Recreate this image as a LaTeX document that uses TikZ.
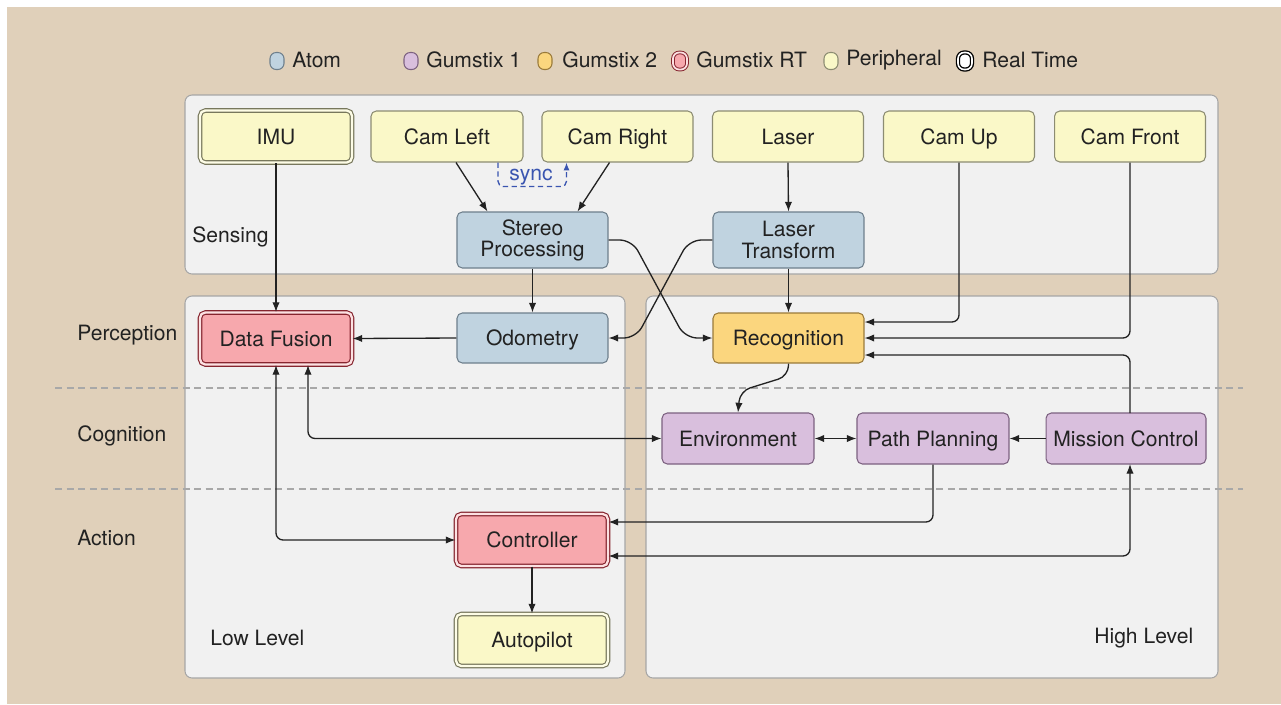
\documentclass[tikz,border=0pt]{standalone}
\usepackage{fontspec}
\setmainfont{TeX Gyre Heros}
\usetikzlibrary{arrows.meta,calc}
\definecolor{bg}{HTML}{E0D0BA}
\definecolor{panelF}{HTML}{F1F1F1}
\definecolor{panelD}{HTML}{A6A6A6}
\definecolor{periF}{HTML}{FAF8C8}
\definecolor{periD}{HTML}{8C8C72}
\definecolor{periDD}{HTML}{77775C}
\definecolor{atomF}{HTML}{C0D3E0}
\definecolor{atomD}{HTML}{6E7F8C}
\definecolor{gAF}{HTML}{D9BFDD}
\definecolor{gAD}{HTML}{7C6180}
\definecolor{gBF}{HTML}{FBD67E}
\definecolor{gBD}{HTML}{9A7A3A}
\definecolor{rtF}{HTML}{F7A8AD}
\definecolor{rtD}{HTML}{86252F}
\definecolor{txt}{HTML}{222222}
\definecolor{lnc}{HTML}{222222}
\definecolor{syncc}{HTML}{3A55B0}
\definecolor{dashc}{HTML}{A8A8A8}
\tikzset{
  box/.style={draw, rounded corners=3pt, minimum width=3.02cm, minimum height=1.02cm,
    inner sep=2pt, align=center, text=txt, line width=0.6pt, text height=2.0ex, text depth=0.34ex},
  twoline/.style={text height=, text depth=},
  peri/.style={box, fill=periF, draw=periD},
  atom/.style={box, fill=atomF, draw=atomD},
  gumA/.style={box, fill=gAF, draw=gAD},
  gumB/.style={box, fill=gBF, draw=gBD},
  dbl/.style={line width=0.65pt, double distance=1.3pt, minimum width=3.04cm, minimum height=1.04cm},
  periRT/.style={peri, draw=periDD, dbl, double=white!55!periF},
  gumRT/.style={box, fill=rtF, draw=rtD, dbl, double=white!65!rtF},
  lbl/.style={anchor=west, text=txt, inner sep=0pt},
  legsym/.style={draw, rounded corners=3.5pt, minimum width=0.28cm, minimum height=0.34cm, inner sep=0pt, line width=0.6pt},
  legtxt/.style={anchor=base west, text=txt, inner sep=0pt},
  panel/.style={fill=panelF, draw=panelD, line width=0.6pt, rounded corners=4pt},
  arr/.style={draw=lnc, line width=0.75pt, rounded corners=4pt, -{Latex[length=5.5pt,width=4.2pt]}},
  darr/.style={draw=lnc, line width=0.75pt, rounded corners=4pt, {Latex[length=5.5pt,width=4.2pt]}-{Latex[length=5.5pt,width=4.2pt]}},
  sep/.style={draw=dashc, line width=1.1pt, dash pattern=on 4pt off 2.6pt},
}
\begin{document}
\begin{tikzpicture}[x=0.02cm,y=-0.02cm, font=\fontsize{12}{14}\selectfont]
\useasboundingbox (0,0) rectangle (1281,704);
\fill[white] (0,0) rectangle (1281,704);
\fill[bg] (7,7) rectangle (1281,704);

% legend
\node[legsym, fill=atomF, draw=atomD] (la) at (277,61) {};
\node[legtxt] (lat) at (292,67) {Atom};
\node[legsym, fill=gAF, draw=gAD] (lg1) at (411,61) {};
\node[legtxt] (lg1t) at (426,67) {Gumstix 1};
\node[legsym, fill=gBF, draw=gBD] (lg2) at (545,61) {};
\node[legtxt] (lg2t) at (562,67) {Gumstix 2};
\node[legsym, fill=rtF, draw=rtD, double=white!65!rtF, double distance=1pt, line width=0.55pt] (lrt) at (680,61) {};
\node[legtxt] (lrtt) at (696,67) {Gumstix RT};
\node[legsym, fill=periF, draw=periD] (lp) at (831,61) {};
\node[legtxt] (lpt) at (846,65) {Peripheral};
\node[legsym, fill=white, draw=black, double=white, double distance=0.9pt, line width=0.75pt] (lr) at (965,61) {};
\node[legtxt] (lrt) at (982,67) {Real Time};

% panels
\draw[panel] (185,95) rectangle (1218,274);
\draw[panel] (185,296) rectangle (625,678);
\draw[panel] (646,296) rectangle (1218,678);

% separators
\draw[sep] (55,388) -- (1243,388);
\draw[sep] (55,489) -- (1243,489);

% labels
\node[lbl] (lsens) at (192,237) {Sensing};
\node[lbl] (lperc) at (77,335) {Perception};
\node[lbl] (lcog) at (77,436) {Cognition};
\node[lbl] (lact) at (77,538) {Action};
\node[anchor=base west, text=txt, inner sep=0pt] (llow) at (210,645) {Low Level};
\node[anchor=base west, text=txt, inner sep=0pt] (lhigh) at (1094,643) {High Level};

% nodes
\node[periRT] (imu) at (276,136.5) {IMU};
\node[peri, minimum width=3.04cm] (camL) at (447,136.5) {Cam Left};
\node[peri] (camR) at (617.5,136.5) {Cam Right};
\node[peri] (laser) at (788,136.5) {Laser};
\node[peri] (camU) at (959,136.5) {Cam Up};
\node[peri] (camF) at (1130,136.5) {Cam Front};
\node[atom, twoline, minimum height=1.12cm] (stereo) at (532.5,240) {Stereo\\[-2pt]Processing};
\node[atom, twoline, minimum height=1.12cm] (lt) at (788.5,240) {Laser\\[-2pt]Transform};
\node[gumRT] (dfus) at (276,338.5) {Data Fusion};
\node[atom, minimum height=1cm] (odo) at (532.5,338) {Odometry};
\node[gumB, minimum height=1cm] (rec) at (788.5,338) {Recognition};
\node[gumA, minimum width=3.04cm] (env) at (738,438.5) {Environment};
\node[gumA, minimum width=3.04cm] (pp) at (933,438.5) {Path Planning};
\node[gumA, minimum width=3.2cm, inner sep=1pt] (mc) at (1126,438.5) {Mission Control};
\node[gumRT] (ctrl) at (532,540) {Controller};
\node[periRT] (auto) at (532,640) {Autopilot};

% connectors
\draw[arr] (imu.south) -- (imu.south |- dfus.north);
\draw[arr] ($(camL.south)+(9,0)$) -- ($(stereo.north)+(-45,0)$);
\draw[arr] ($(camR.south)+(-8,0)$) -- ($(stereo.north)+(45,0)$);
\draw[syncc, line width=0.75pt, dash pattern=on 3pt off 2pt, rounded corners=3pt, -{Latex[length=4.5pt,width=3.5pt]}]
  ($(camL.south)+(51,0)$) -- ++(0,24) -| ($(camR.south)+(-51,0)$);
\node[text=syncc, inner sep=0pt, anchor=base] (synct) at (531,180) {sync};
\draw[arr] (laser.south) -- (lt.north);

\coordinate (s1) at (632,240);
\coordinate (s2) at (685,338);
\draw[arr, rounded corners=7pt] (stereo.east) -- (s1) -- (s2) -- (rec.west);
\coordinate (t1) at (689,240);
\coordinate (t2) at (636,338);
\draw[arr, rounded corners=7pt] (lt.west) -- (t1) -- (t2) -- (odo.east);

\draw[arr] (stereo.south) -- (odo.north);
\draw[arr] (lt.south) -- (rec.north);
\draw[arr] (camU.south) |- ($(rec.east)+(0,-16)$);
\draw[arr] (camF.south) |- (rec.east);
\coordinate (mcx) at (1130,413);
\draw[arr] (mcx) |- ($(rec.east)+(0,17)$);

\coordinate (r1) at (788.5,376);
\coordinate (r2) at (740,391);
\draw[arr, rounded corners=6pt] (rec.south) -- (r1) -- (r2) -- (env.north);

\draw[arr] (odo.west) -- (dfus.east);
\draw[darr] (env.west) -| ($(dfus.south)+(32,0)$);
\draw[darr] (env.east) -- (pp.west);
\draw[arr] (mc.west) -- (pp.east);
\draw[darr] (dfus.south) |- (ctrl.west);
\draw[arr] (pp.south) |- ($(ctrl.east)+(0,-18)$);
\coordinate (mcb) at (1130,464);
\draw[darr] ($(ctrl.east)+(0,16)$) -| (mcb);
\draw[arr] (ctrl.south) -- (auto.north);
\end{tikzpicture}
\end{document}
